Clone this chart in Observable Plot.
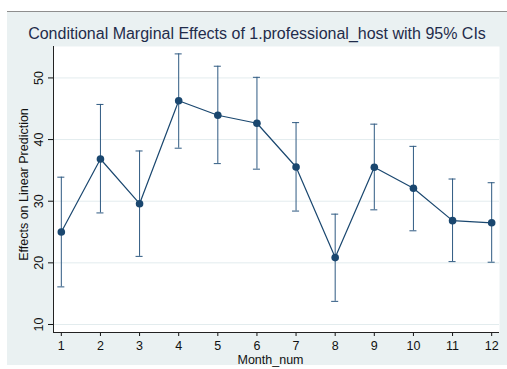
<!DOCTYPE html>
<html>
<head>
<meta charset="utf-8">
<script src="https://cdn.jsdelivr.net/npm/d3@7"></script>
<script src="https://cdn.jsdelivr.net/npm/@observablehq/plot@0.6"></script>
<style>
  html, body { margin: 0; padding: 0; background: #ffffff; }
  #wrap { position: relative; width: 507px; height: 369px; overflow: hidden; font-family: "Liberation Sans", Arial, Helvetica, sans-serif; }
  #panel { position: absolute; left: 7px; top: 11px; width: 500px; height: 354px; background: #eaf1f2; border-top: 1px solid #8e8e8e; box-sizing: border-box; }
  #title { position: absolute; left: 7px; width: 500px; top: 24px; text-align: center; font-size: 16px; line-height: 19px; color: #1f2c4b; white-space: nowrap; }
  #chart { position: absolute; left: 0; top: 0; }
</style>
</head>
<body>
<div id="wrap">
  <div id="panel"></div>
  <div id="chart"></div>
  <div id="title">Conditional Marginal Effects of 1.professional_host with 95% CIs</div>
</div>
<script>
const months    = [1, 2, 3, 4, 5, 6, 7, 8, 9, 10, 11, 12];
const estimates = [25.0, 36.85, 29.6, 46.3, 43.95, 42.65, 35.55, 20.85, 35.5, 32.1, 26.85, 26.5];
const lower     = [16.1, 28.1, 21.05, 38.6, 36.1, 35.2, 28.4, 13.75, 28.6, 25.2, 20.2, 20.1];
const upper     = [33.9, 45.7, 38.15, 53.9, 51.9, 50.1, 42.75, 27.9, 42.5, 38.9, 33.6, 33.0];
const yTicks    = [10, 20, 30, 40, 50];
const xTicks    = [1, 2, 3, 4, 5, 6, 7, 8, 9, 10, 11, 12];
const xLabel    = "Month_num";
const yLabel    = "Effects on Linear Prediction";

const data = months.map((m, i) => ({month: m, est: estimates[i], lo: lower[i], hi: upper[i]}));

const navy = "#1a476f";
const ciColor = "#2f5a82";
const capHalf = 0.09;

const chart = Plot.plot({
  width: 507,
  height: 369,
  marginLeft: 53,
  marginRight: 8,
  marginTop: 46,
  marginBottom: 37,
  style: {background: "transparent", fontFamily: "'Liberation Sans', Arial, Helvetica, sans-serif", fontSize: "12px", color: "#111"},
  x: {domain: [0.8, 12.2]},
  y: {domain: [8.7, 55.1]},
  marks: [
    Plot.frame({fill: "white", stroke: null}),
    Plot.gridY(yTicks, {stroke: "#e3ecee", strokeOpacity: 1, strokeWidth: 1}),
    Plot.ruleX(data, {x: "month", y1: "lo", y2: "hi", stroke: ciColor, strokeWidth: 1}),
    Plot.ruleY(data, {y: "hi", x1: d => d.month - capHalf, x2: d => d.month + capHalf, stroke: ciColor, strokeWidth: 1}),
    Plot.ruleY(data, {y: "lo", x1: d => d.month - capHalf, x2: d => d.month + capHalf, stroke: ciColor, strokeWidth: 1}),
    Plot.line(data, {x: "month", y: "est", stroke: navy, strokeWidth: 1.2}),
    Plot.dot(data, {x: "month", y: "est", r: 3.8, fill: navy, stroke: null}),
    Plot.axisY({ticks: yTicks, tickRotate: -90, tickSize: 5, tickPadding: 6, label: null, fontSize: 12.5}),
    Plot.axisX({ticks: xTicks, tickSize: 4, tickPadding: 5, label: null, fontSize: 12.5}),
    Plot.text([yLabel], {text: d => d, frameAnchor: "left", textAnchor: "middle", lineAnchor: "middle", rotate: -90, dx: -30, dy: -5, fontSize: 12.5, fill: "#111"}),
    Plot.text([xLabel], {text: d => d, frameAnchor: "bottom", textAnchor: "middle", lineAnchor: "middle", dx: -6, dy: 27, fontSize: 12.5, fill: "#111"}),
    Plot.ruleX([0.8], {stroke: "#222", strokeWidth: 1}),
    Plot.ruleY([8.7], {stroke: "#222", strokeWidth: 1})
  ]
});
document.getElementById("chart").appendChild(chart);
</script>
</body>
</html>
